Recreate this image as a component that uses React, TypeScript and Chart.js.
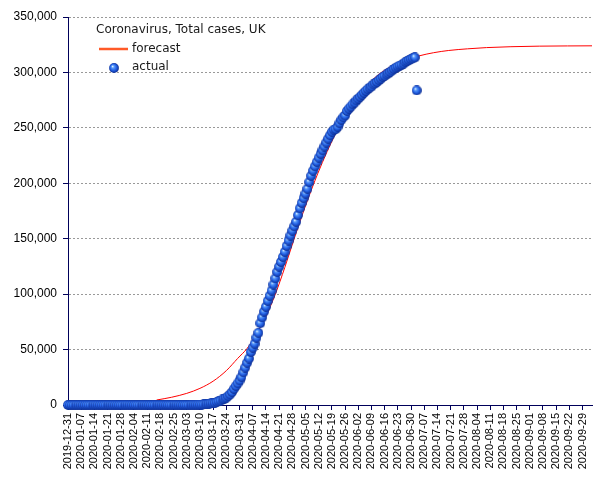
import { useEffect, useRef } from "react";
import { Chart, registerables } from "chart.js";

Chart.register(...registerables);

const TITLE = "Coronavirus, Total cases, UK";
const ACTUAL_LABEL = "actual";
const FORECAST_LABEL = "forecast";

// weekly x-axis tick labels, starting 2019-12-31 (day 0)
const TICK_LABELS = [
  "2019-12-31", "2020-01-07", "2020-01-14", "2020-01-21", "2020-01-28",
  "2020-02-04", "2020-02-11", "2020-02-18", "2020-02-25", "2020-03-03",
  "2020-03-10", "2020-03-17", "2020-03-24", "2020-03-31", "2020-04-07",
  "2020-04-14", "2020-04-21", "2020-04-28", "2020-05-05", "2020-05-12",
  "2020-05-19", "2020-05-26", "2020-06-02", "2020-06-09", "2020-06-16",
  "2020-06-23", "2020-06-30", "2020-07-07", "2020-07-14", "2020-07-21",
  "2020-07-28", "2020-08-04", "2020-08-11", "2020-08-18", "2020-08-25",
  "2020-09-01", "2020-09-08", "2020-09-15", "2020-09-22", "2020-09-29",
];
const TICK_STEP_DAYS = 7;
const X_MAX_DAY = 278;

// daily actual total cases, one value per day from 2019-12-31
const ACTUAL_CASES = [
  0, 0, 0, 0, 0, 0, 0, 0, 0, 0,
  0, 0, 0, 0, 0, 0, 0, 0, 0, 0,
  0, 0, 0, 0, 0, 0, 0, 0, 0, 0,
  0, 0, 2, 2, 2, 2, 2, 2, 3, 3,
  3, 3, 8, 8, 9, 9, 9, 9, 9, 9,
  9, 9, 9, 9, 9, 13, 13, 13, 13, 15,
  20, 23, 36, 40, 51, 85, 115, 163, 206, 273,
  321, 373, 456, 590, 798, 1140, 1391, 1543, 1950, 2626,
  3269, 3983, 5018, 5683, 6650, 8077, 9529, 11658, 14543, 17089,
  19522, 22141, 25150, 29474, 33718, 38168, 41903, 47806, 51608, 55242,
  60733, 65077, 73758, 78991, 84279, 88621, 93873, 98476, 103093, 108692,
  114217, 120067, 124743, 129044, 133495, 138078, 143464, 148377, 152840, 157149,
  161145, 165221, 171253, 177454, 182260, 186599, 190584, 194990, 201101, 206715,
  211364, 215260, 219183, 223060, 226463, 229705, 233151, 236711, 240161, 243303,
  246406, 248293, 248818, 250908, 254195, 257154, 259559, 261184, 265227, 267240,
  269127, 271222, 272826, 274762, 276332, 277985, 279856, 281661, 283311, 284868,
  286194, 287399, 289140, 290143, 291409, 292950, 294375, 295889, 296857, 298136,
  299251, 300469, 301815, 303110, 304331, 305289, 306210, 306862, 307980, 309360,
  310250, 311151, 311965, 312654, 313483, 283757,
];

// forecast curve (day index since 2019-12-31)
const FORECAST_DAYS = [
  47, 55, 63, 70, 77, 84, 90, 95, 100, 105,
  110, 115, 120, 125, 130, 135, 140, 145, 150, 157,
  164, 171, 178, 186, 194, 202, 212, 222, 235, 250,
  265, 278,
];
const FORECAST_CASES = [
  4500, 7000, 10500, 15000, 21500, 31000, 42000, 51000, 64000, 80000,
  100000, 124000, 150000, 175000, 198000, 219000, 238000, 255000, 270000, 285000,
  297000, 305000, 310500, 314800, 317800, 319800, 321300, 322400, 323200, 323700,
  323900, 324000,
];

const Y_MAX = 350000;
const Y_STEP = 50000;

const NAVY = "#00005a";

function makeSphere(): HTMLCanvasElement {
  const c = document.createElement("canvas");
  c.width = 10;
  c.height = 10;
  const g = c.getContext("2d")!;
  const grad = g.createRadialGradient(3.5, 3.3, 0.3, 5, 5, 5.3);
  grad.addColorStop(0, "#dcefff");
  grad.addColorStop(0.22, "#5b9bf8");
  grad.addColorStop(0.55, "#2563e6");
  grad.addColorStop(0.85, "#123aa8");
  grad.addColorStop(1, "#0a2580");
  g.fillStyle = grad;
  g.beginPath();
  g.arc(5, 5, 4.9, 0, Math.PI * 2);
  g.fill();
  return c;
}

export default function App() {
  const ref = useRef<HTMLCanvasElement | null>(null);

  useEffect(() => {
    if (!ref.current) return;
    const sphere = makeSphere();

    const legendPlugin = {
      id: "insideLegend",
      afterDraw(chart: any) {
        const ctx = chart.ctx as CanvasRenderingContext2D;
        ctx.save();
        ctx.font = '12px "DejaVu Sans", sans-serif';
        ctx.fillStyle = "#1a1a1a";
        ctx.textBaseline = "middle";
        ctx.textAlign = "left";
        ctx.fillText(TITLE, 96, 30);
        ctx.strokeStyle = "#ff5a28";
        ctx.lineWidth = 2.5;
        ctx.beginPath();
        ctx.moveTo(99, 49);
        ctx.lineTo(128, 49);
        ctx.stroke();
        ctx.fillText(FORECAST_LABEL, 132, 49);
        ctx.drawImage(sphere, 114 - 5, 68 - 5);
        ctx.fillText(ACTUAL_LABEL, 132, 67);
        ctx.restore();
      },
    };

    const chart = new Chart(ref.current, {
      type: "scatter",
      data: {
        datasets: [
          {
            label: ACTUAL_LABEL,
            data: ACTUAL_CASES.map((v, i) => ({ x: i, y: v })),
            showLine: false,
            pointStyle: sphere as any,
            pointRadius: 5,
            pointHoverRadius: 5,
            clip: false as any,
            order: 0,
          },
          {
            label: FORECAST_LABEL,
            data: FORECAST_DAYS.map((d, i) => ({ x: d, y: FORECAST_CASES[i] })),
            showLine: true,
            borderColor: "#ff0000",
            borderWidth: 1,
            pointRadius: 0,
            pointHoverRadius: 0,
            cubicInterpolationMode: "monotone",
            order: 1,
          } as any,
        ],
      },
      options: {
        responsive: false,
        animation: false,
        events: [],
        layout: { padding: { top: 17, right: 13, left: 0, bottom: 0 } },
        plugins: {
          legend: { display: false },
          tooltip: { enabled: false },
        },
        scales: {
          x: {
            type: "linear",
            min: 0,
            max: X_MAX_DAY,
            afterBuildTicks: (scale: any) => {
              scale.ticks = TICK_LABELS.map((_, i) => ({ value: i * TICK_STEP_DAYS }));
            },
            afterFit: (scale: any) => {
              scale.height = 75;
            },
            ticks: {
              autoSkip: false,
              maxRotation: 90,
              minRotation: 90,
              padding: 3,
              color: "#000",
              font: { family: '"Liberation Sans", Arial, sans-serif', size: 11 },
              callback: (_v: any, i: number) => TICK_LABELS[i],
            },
            grid: {
              drawOnChartArea: false,
              tickLength: 5,
              tickColor: NAVY,
              color: NAVY,
            },
            border: { color: NAVY, width: 1 },
          },
          y: {
            min: 0,
            max: Y_MAX,
            afterFit: (scale: any) => {
              scale.width = 68;
            },
            ticks: {
              stepSize: Y_STEP,
              padding: 6,
              color: "#000",
              font: { family: '"Liberation Sans", Arial, sans-serif', size: 12 },
              callback: (v: any) => Number(v).toLocaleString("en-US"),
            },
            grid: {
              color: "#999999",
              lineWidth: 1,
              tickLength: 5,
              tickColor: NAVY,
            },
            border: { color: NAVY, width: 1, dash: [2, 2] },
          },
        },
      },
      plugins: [legendPlugin],
    });

    return () => chart.destroy();
  }, []);

  return (
    <div style={{ position: "absolute", left: 0, top: 0, width: 605, height: 480, background: "#fff" }}>
      <canvas ref={ref} width={605} height={480} />
    </div>
  );
}
